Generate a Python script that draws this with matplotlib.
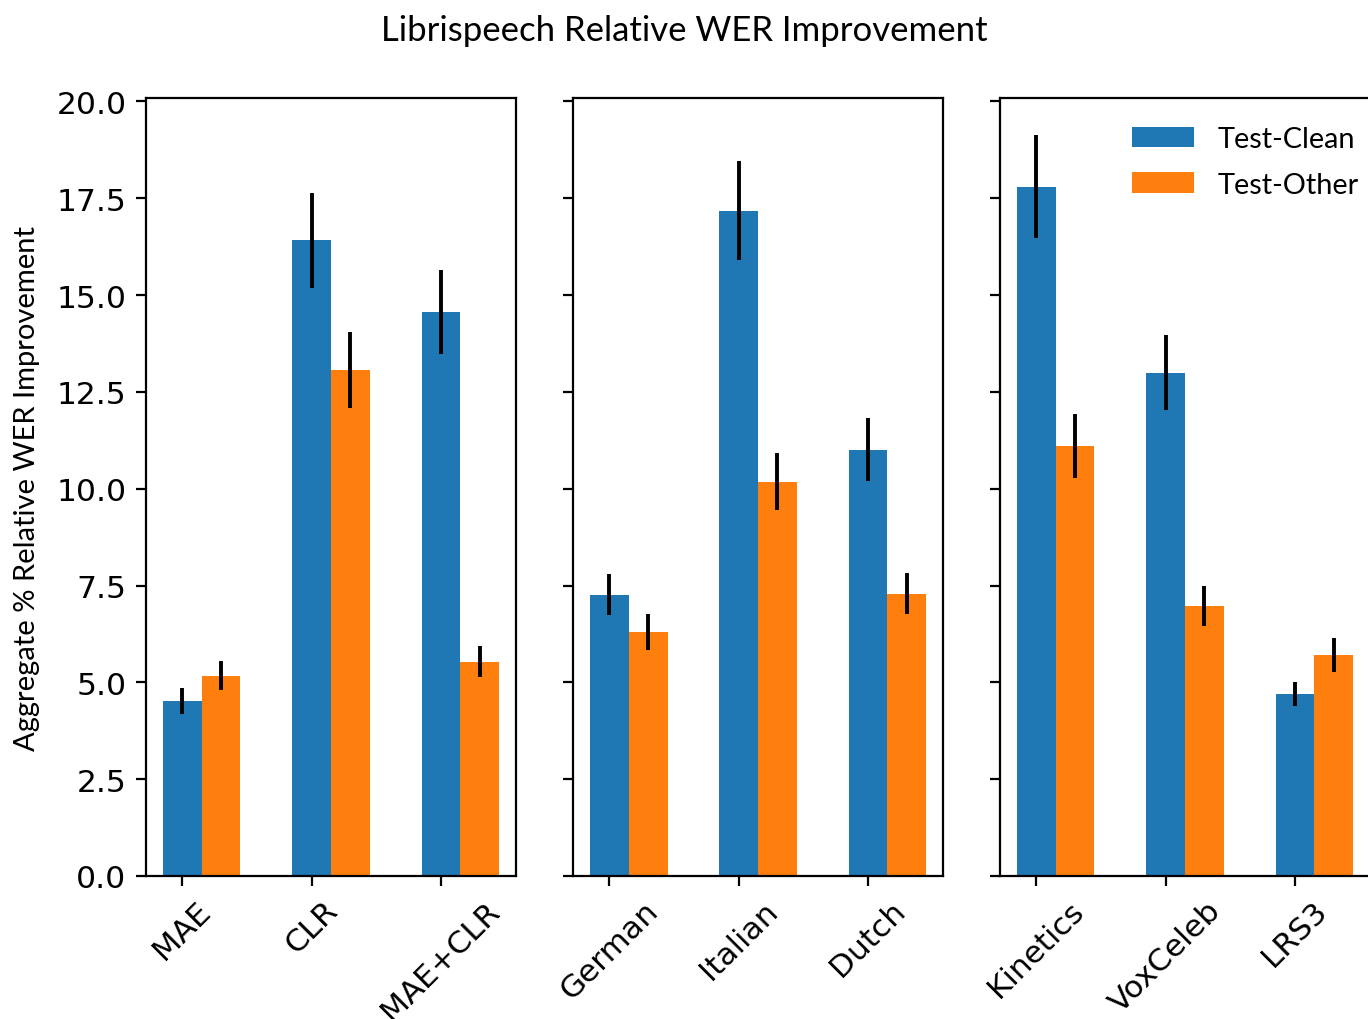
import numpy as np
import matplotlib
matplotlib.use('Agg')
import matplotlib.pyplot as plt

# data
groups = [['MAE', 'CLR', 'MAE+CLR'],
          ['German', 'Italian', 'Dutch'],
          ['Kinetics', 'VoxCeleb', 'LRS3']]
clean = [[4.52, 16.41, 14.57],
         [7.26, 17.18, 11.01],
         [17.80, 13.00, 4.70]]
clean_err = [[0.33, 1.23, 1.08],
             [0.53, 1.28, 0.81],
             [1.33, 0.96, 0.32]]
other = [[5.17, 13.07, 5.53],
         [6.30, 10.18, 7.29],
         [11.11, 6.98, 5.71]]
other_err = [[0.37, 0.98, 0.40],
             [0.47, 0.74, 0.53],
             [0.83, 0.52, 0.44]]

LABEL_FONT = 'Lato'
W = 0.3

fig = plt.figure(figsize=(6.84, 5.1), dpi=200)
lefts = [0.1067, 0.4189, 0.7310]
axes = []
for i in range(3):
    ax = fig.add_axes([lefts[i], 0.1402, 0.2705, 0.7627],
                      sharey=axes[0] if axes else None)
    axes.append(ax)
    x = np.arange(len(groups[i]))
    ax.bar(x, clean[i], W, yerr=clean_err[i], color='#1f77b4',
           error_kw=dict(elinewidth=1.4, ecolor='black'), label='Test-Clean')
    ax.bar(x + W, other[i], W, yerr=other_err[i], color='#ff7f0e',
           error_kw=dict(elinewidth=1.4, ecolor='black'), label='Test-Other')
    ax.set_xticks(x)
    ax.set_xticklabels(groups[i], rotation=45, fontsize=11.2)
    ax.tick_params(axis='y', labelsize=11.3)
    if i > 0:
        ax.tick_params(axis='y', labelleft=False)

axes[0].set_ylabel('Aggregate % Relative WER Improvement', family=LABEL_FONT,
                   fontsize=10.5, labelpad=6)
axes[2].legend(frameon=False, prop=dict(family=LABEL_FONT, size=10.4), loc='upper right',
               bbox_to_anchor=(1.0, 0.979), borderaxespad=0.0, handlelength=2.15,
               labelspacing=0.68)
fig.suptitle('Librispeech Relative WER Improvement', family=LABEL_FONT, fontsize=12.5, y=0.985)

fig.savefig('out.png', dpi=200)
